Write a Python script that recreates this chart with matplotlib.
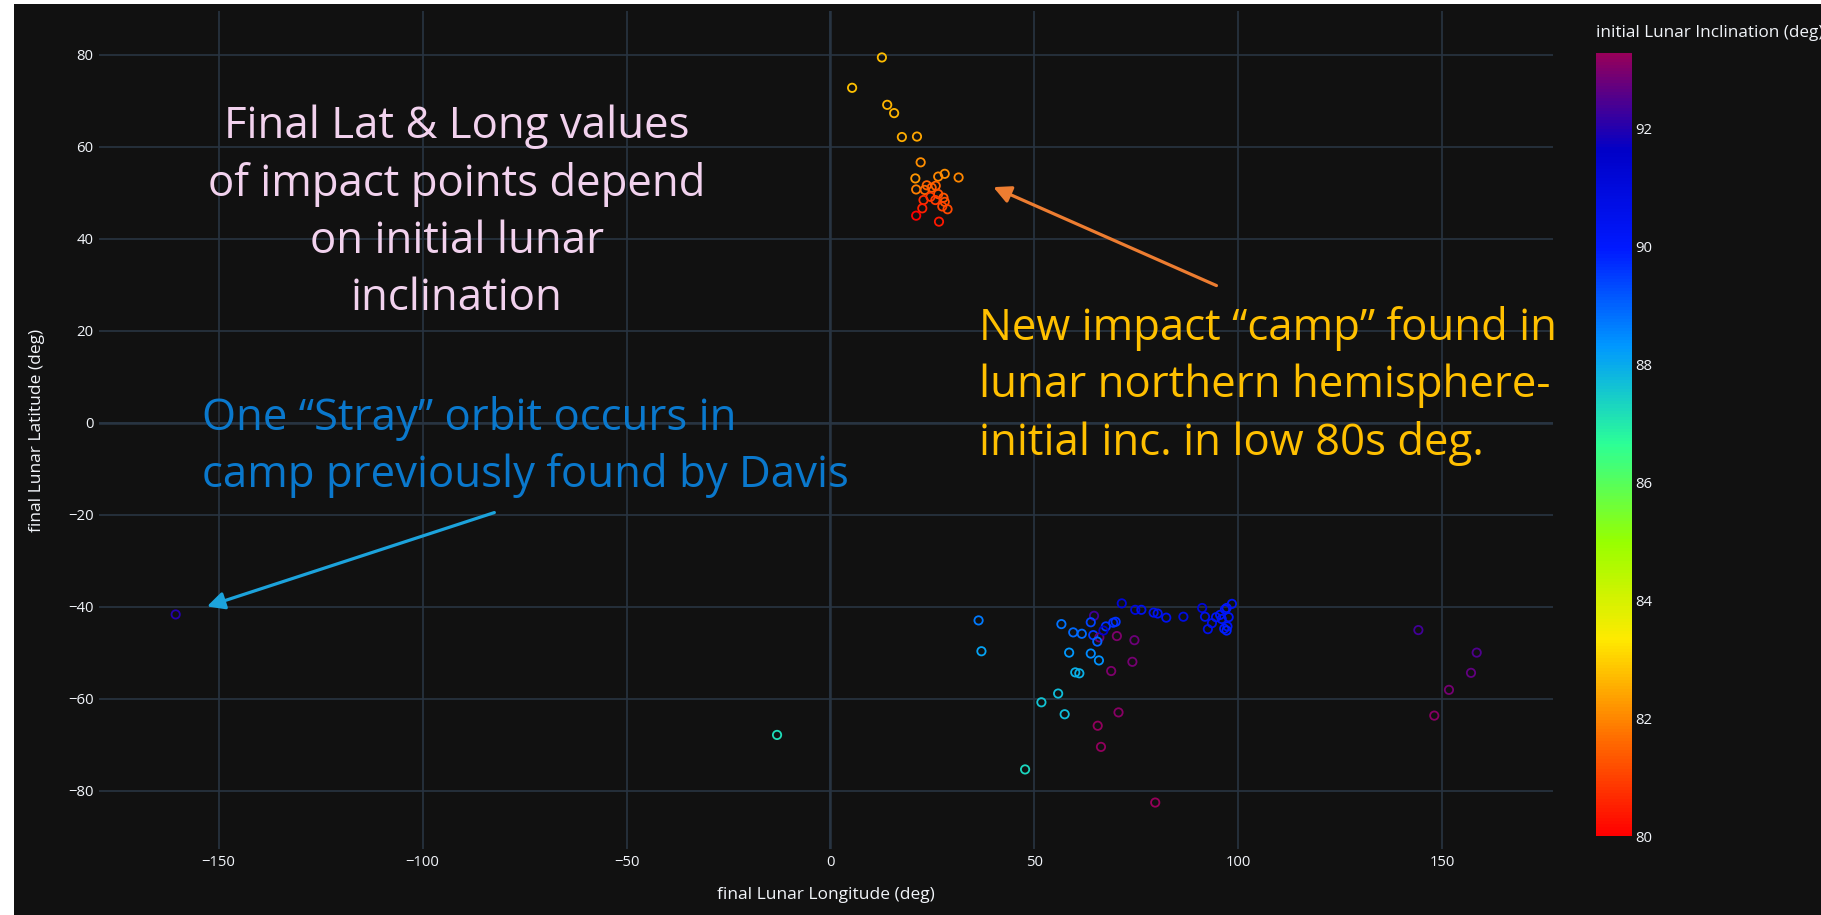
import numpy as np
import matplotlib.pyplot as plt
from matplotlib.colors import LinearSegmentedColormap, Normalize
from matplotlib.cm import ScalarMappable
from matplotlib.patches import Rectangle

## Impact points: final lunar longitude / latitude (deg), initial inclination (deg)

lon = [12.6, 5.3, 13.9, 15.6, 17.5, 21.2, 22.1, 20.8, 26.4, 28.0, 31.4, 21.0, 23.6, 23.1,
       24.8, 25.8, 26.4, 27.7, 24.5, 22.8, 25.7, 28.0, 27.4, 28.7, 22.5, 21.0, 26.6,
       36.3, 37.0, 71.4, 64.6, 56.6, 63.8, 59.5, 61.6, 64.4, 65.9, 65.4, 67.5, 66.9, 69.3,
       69.9, 70.2, 74.5, 74.7, 76.2, 79.2, 80.2, 82.3, 86.5, 91.1, 91.8, 92.5, 93.5, 94.5,
       95.5, 95.9, 96.7, 97.1, 98.4, 97.6, 97.3, 96.5, 97.1,
       58.5, 63.8, 65.8, 74.0, 60.0, 61.0, 68.8, 55.8, 51.7, 57.4, 70.6, 65.5, 66.3, 47.7, 79.6,
       144.1, 158.4, 157.0, 151.6, 148.0,
       -160.5, -13.1]
lat = [79.4, 72.8, 69.1, 67.3, 62.1, 62.2, 56.6, 53.1, 53.5, 54.1, 53.3, 50.7, 51.6, 50.6,
       51.1, 51.5, 49.7, 48.9, 49.1, 48.4, 48.4, 48.0, 47.0, 46.4, 46.6, 45.0, 43.7,
       -43.0, -49.7, -39.3, -42.0, -43.8, -43.4, -45.6, -45.9, -46.2, -46.7, -47.6, -44.3, -45.2, -43.5,
       -43.3, -46.4, -47.3, -40.7, -40.7, -41.3, -41.5, -42.4, -42.2, -40.3, -42.2, -44.9, -43.6, -42.3,
       -41.8, -42.7, -40.6, -40.3, -39.4, -42.3, -44.3, -44.8, -45.2,
       -50.0, -50.2, -51.7, -52.0, -54.3, -54.5, -54.0, -58.9, -60.8, -63.4, -63.0, -65.9, -70.5, -75.4, -82.6,
       -45.1, -50.0, -54.4, -58.1, -63.7,
       -41.7, -67.9]
inc = [82.7, 82.8, 82.6, 82.6, 82.5, 82.4, 82.1, 82.2, 82.0, 82.1, 82.0, 81.9, 81.5, 81.6,
       81.4, 81.5, 81.2, 81.3, 80.9, 80.7, 80.9, 81.2, 81.0, 81.1, 80.5, 80.0, 80.4,
       88.7, 88.1, 91.2, 92.3, 88.8, 89.4, 88.9, 88.9, 89.5, 92.8, 89.0, 89.6, 91.5, 89.7,
       89.6, 93.0, 92.8, 91.0, 90.5, 90.5, 90.4, 90.4, 90.8, 91.2, 90.5, 90.6, 90.6, 90.3,
       90.2, 90.3, 90.2, 90.1, 90.3, 90.2, 90.2, 90.0, 89.9,
       88.3, 88.5, 88.4, 92.9, 87.9, 87.9, 93.0, 87.7, 87.6, 87.7, 93.1, 93.2, 93.2, 87.3, 93.28,
       92.3, 92.5, 92.7, 92.9, 93.1,
       92.0, 87.2]

x_ticks = [-150, -100, -50, 0, 50, 100, 150]
y_ticks = [-80, -60, -40, -20, 0, 20, 40, 60, 80]
cbar_ticks = [80, 82, 84, 86, 88, 90, 92]

# plotly "Rainbow" reversed
rainbow_r = ["#ff0000", "#ff6f00", "#ffea00", "#97ff00", "#2cff96",
             "#0098ff", "#0019ff", "#0000c8", "#96005a"]
cmap = LinearSegmentedColormap.from_list("rainbow_r", rainbow_r)
norm = Normalize(vmin=min(inc), vmax=max(inc))

W, H = 1821, 915
bg = "#111111"
grid = "#283442"
fg = "#f2f5fa"


def fig_px(x, y):
    return x / W, 1 - y / H


fig = plt.figure(figsize=(W / 100, H / 100), dpi=100, facecolor="white")
fig.add_artist(Rectangle((14 / W, 0), 1, 1 - 4 / H, transform=fig.transFigure,
                         facecolor=bg, edgecolor="none", zorder=0))

ax = fig.add_axes([99 / W, 1 - 849 / H, (1553 - 99) / W, (849 - 11) / H])
ax.set_facecolor(bg)
ax.set_xlim(-179.3, 177.1)
ax.set_ylim(-92.7, 89.5)
ax.set_xticks(x_ticks)
ax.set_yticks(y_ticks)
ax.grid(color=grid, lw=1.2)
ax.axhline(0, color=grid, lw=1.8, zorder=0.5)
ax.axvline(0, color=grid, lw=1.8, zorder=0.5)
ax.set_axisbelow(True)
for s in ax.spines.values():
    s.set_visible(False)
ax.tick_params(length=0, labelsize=10.7, labelcolor=fg, pad=4)
for lab in ax.get_xticklabels() + ax.get_yticklabels():
    lab.set_family("Open Sans")

ax.scatter(lon, lat, s=36, facecolors="none", edgecolors=cmap(norm(inc)), linewidths=1.3, zorder=3)

ax.set_xlabel("final Lunar Longitude (deg)", color=fg, fontsize=12.5, family="Open Sans", va="center")
ax.xaxis.set_label_coords(0.5, (849 - 895) / (849 - 11))
ax.set_ylabel("final Lunar Latitude (deg)", color=fg, fontsize=12.5, family="Open Sans", va="center")
ax.yaxis.set_label_coords((37 - 99) / (1553 - 99), 0.5)

# colorbar
cax = fig.add_axes([1596 / W, 1 - 836 / H, 36 / W, (836 - 52.5) / H])
cb = fig.colorbar(ScalarMappable(norm=norm, cmap=cmap), cax=cax, ticks=cbar_ticks)
cb.outline.set_visible(False)
cax.tick_params(length=0, labelsize=10.7, labelcolor=fg, pad=2)
for lab in cax.get_yticklabels():
    lab.set_family("Open Sans")
fig.text(*fig_px(1596, 33), "initial Lunar Inclination (deg)", color=fg, fontsize=12.3,
         family="Open Sans", ha="left", va="center")


# text boxes laid over the chart
def note(lines, x, y0, step, color, ha):
    for i, line in enumerate(lines):
        fig.text(*fig_px(x, y0 + i * step), line, color=color, ha=ha, va="baseline",
                 fontsize=31.5, family="Open Sans")


note(["Final Lat & Long values", "of impact points depend", "on initial lunar", "inclination"],
     457, 138.3, 57.3, "#f2d2ee", "center")
note(["One \u201cStray\u201d orbit occurs in", "camp previously found by Davis"],
     202, 430, 57.3, "#0a78cc", "left")
note(["New impact \u201ccamp\u201d found in", "lunar northern hemisphere-", "initial inc. in low 80s deg."],
     979, 340, 57.5, "#ffc000", "left")

ax.annotate("", xy=(204.3, H - 607.3), xytext=(497, H - 511.7),
            xycoords="figure pixels", textcoords="figure pixels",
            arrowprops=dict(arrowstyle="-|>", color="#1ca3dc", lw=2.3, mutation_scale=26))
ax.annotate("", xy=(990.8, H - 186), xytext=(1219, H - 286.7),
            xycoords="figure pixels", textcoords="figure pixels",
            arrowprops=dict(arrowstyle="-|>", color="#ed7d31", lw=2.3, mutation_scale=26))

fig.savefig("out.png", dpi=100, facecolor=fig.get_facecolor())
